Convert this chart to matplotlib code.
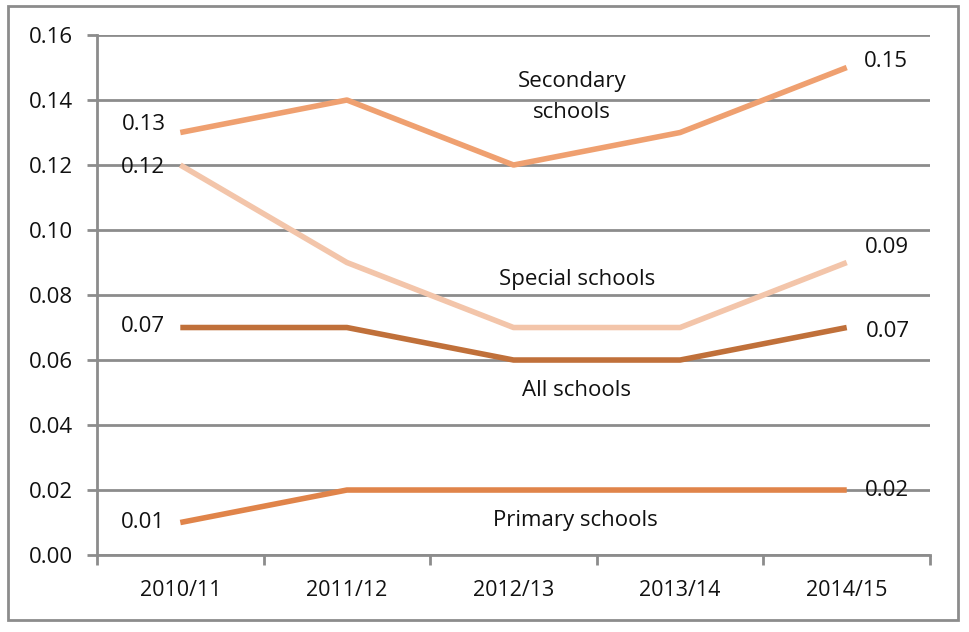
import matplotlib.pyplot as plt
import matplotlib.patches as patches
from matplotlib.ticker import FixedLocator, NullFormatter

years = ["2010/11", "2011/12", "2012/13", "2013/14", "2014/15"]
secondary = [0.13, 0.14, 0.12, 0.13, 0.15]
special = [0.12, 0.09, 0.07, 0.07, 0.09]
all_schools = [0.07, 0.07, 0.06, 0.06, 0.07]
primary = [0.01, 0.02, 0.02, 0.02, 0.02]

plt.rcParams['font.family'] = ['Open Sans', 'DejaVu Sans']

fig = plt.figure(figsize=(9.7, 6.32), dpi=100)
ax = fig.add_axes([0.1, 0.1218, 0.8588, 0.8228])

x = list(range(len(years)))
ax.plot(x, secondary, color='#EFA070', lw=4, solid_capstyle='butt', zorder=3)
ax.plot(x, special, color='#F3C5AA', lw=4, solid_capstyle='butt', zorder=3)
ax.plot(x, all_schools, color='#C0703A', lw=4, solid_capstyle='butt', zorder=3)
ax.plot(x, primary, color='#E0844A', lw=4, solid_capstyle='butt', zorder=3)

ax.set_xlim(-0.5, 4.5)
ax.set_ylim(0, 0.16)
ax.set_yticks([i * 0.02 for i in range(9)])
ax.set_yticklabels([f"{i * 0.02:.2f}" for i in range(9)])
ax.yaxis.grid(True, color='#8c8c8c', lw=2)
ax.set_axisbelow(True)

ax.set_xticks(x)
ax.set_xticklabels(years)
ax.tick_params(axis='x', which='major', length=0, pad=18, labelsize=15.5, labelcolor='#111111')
ax.xaxis.set_minor_locator(FixedLocator([-0.5, 0.5, 1.5, 2.5, 3.5, 4.5]))
ax.xaxis.set_minor_formatter(NullFormatter())
ax.tick_params(axis='x', which='minor', length=7, width=2, color='#8c8c8c')
ax.tick_params(axis='y', length=7, width=2, color='#8c8c8c', labelsize=16, pad=10,
               labelcolor='#111111')

for s in ['top', 'right']:
    ax.spines[s].set_visible(False)
for s in ['left', 'bottom']:
    ax.spines[s].set_color('#8c8c8c')
    ax.spines[s].set_linewidth(2)

# value labels at the ends
def lab(xv, yv, dx, dy, ha):
    ax.annotate(f"{yv:.2f}", (xv, yv), xytext=(dx, dy), textcoords='offset pixels',
                ha=ha, va='center', fontsize=16, color='#111111', zorder=4)

lab(0, secondary[0], -14, 8, 'right')
lab(0, special[0], -15, -2, 'right')
lab(0, all_schools[0], -15, 1, 'right')
lab(0, primary[0], -15, 0, 'right')
lab(4, secondary[-1], 17, 6, 'left')
lab(4, special[-1], 18, 15, 'left')
lab(4, all_schools[-1], 19, -4, 'left')
lab(4, primary[-1], 18, 0, 'left')

# series names
ax.text(2.35, 0.1410, "Secondary\nschools", ha='center', va='center', fontsize=16,
        linespacing=1.65, color='#111111')
ax.text(2.38, 0.0849, "Special schools", ha='center', va='center', fontsize=16, color='#111111')
ax.text(2.38, 0.0505, "All schools", ha='center', va='center', fontsize=16, color='#111111')
ax.text(2.37, 0.0105, "Primary schools", ha='center', va='center', fontsize=16, color='#111111')

fig.patches.append(patches.Rectangle((8 / 970, 12 / 632), 950 / 970, 614 / 632,
                                     transform=fig.transFigure, fill=False,
                                     edgecolor='#8c8c8c', lw=2))

fig.savefig("out.png", dpi=100)
